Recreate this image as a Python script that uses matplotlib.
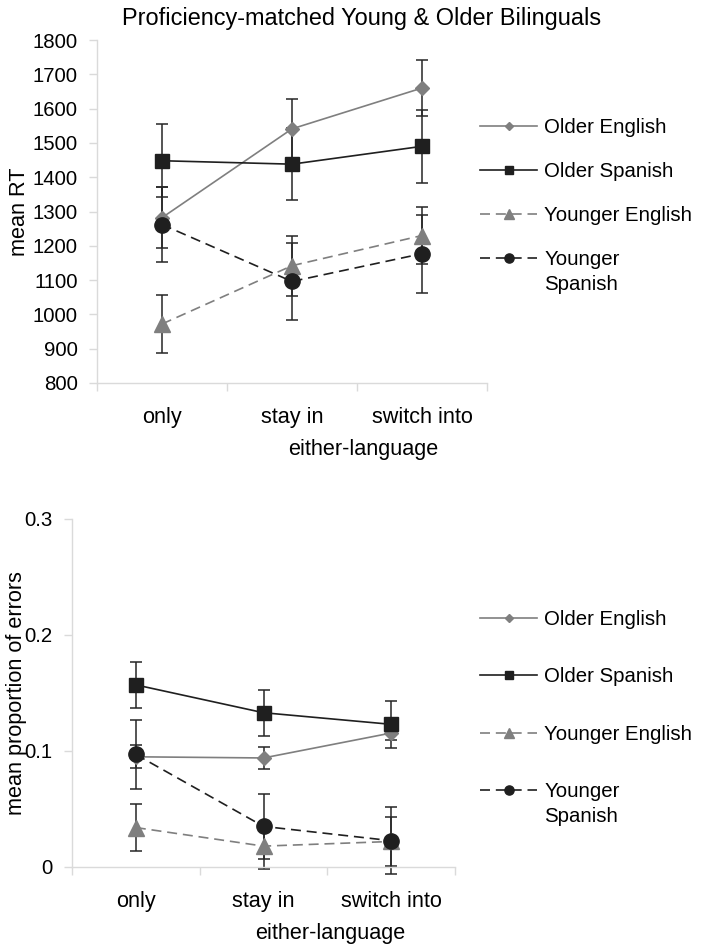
import numpy as np
import matplotlib
matplotlib.use("Agg")
import matplotlib.pyplot as plt
from matplotlib.ticker import FixedLocator, NullFormatter

plt.rcParams['font.family'] = ['Liberation Sans', 'DejaVu Sans']

conditions = ["only", "stay in", "switch into"]
groups = ["Older English", "Older Spanish", "Younger English", "Younger Spanish"]

# top panel: mean RT
rt_mean = {
    "Older English": [1282, 1541, 1660],
    "Older Spanish": [1448, 1438, 1490],
    "Younger English": [972, 1142, 1230],
    "Younger Spanish": [1262, 1096, 1177],
}
rt_err = {
    "Older English": [88, 88, 82],
    "Older Spanish": [107, 104, 107],
    "Younger English": [85, 88, 84],
    "Younger Spanish": [108, 112, 114],
}

# bottom panel: proportion of errors
err_mean = {
    "Older English": [0.095, 0.094, 0.1155],
    "Older Spanish": [0.157, 0.133, 0.123],
    "Younger English": [0.034, 0.018, 0.022],
    "Younger Spanish": [0.097, 0.035, 0.0227],
}
err_err = {
    "Older English": [0.010, 0.0095, 0.006],
    "Older Spanish": [0.020, 0.020, 0.020],
    "Younger English": [0.020, 0.020, 0.021],
    "Younger Spanish": [0.030, 0.028, 0.029],
}

gray = "#7f7f7f"
dark = "#1f1f1f"
styles = {
    "Older English": dict(color=gray, marker="D", ls="-", ms=7.5),
    "Older Spanish": dict(color=dark, marker="s", ls="-", ms=10.5),
    "Younger English": dict(color=gray, marker="^", ls=(0, (6, 3.5)), ms=11),
    "Younger Spanish": dict(color=dark, marker="o", ls=(0, (6, 3.5)), ms=11),
}

spine_col = "#dadada"
fs_tick = 14.7
fs_lab = 15.6
fs_leg = 14.7


def panel(ax, means, errs, ylim, yticks, ylabels, ylab, xlab_x, ylab_x):
    x = np.arange(len(conditions)) + 0.5
    for g in groups:
        ax.errorbar(x, means[g], yerr=errs[g], fmt="none", ecolor="#262626",
                    elinewidth=1.1, capsize=4.4, capthick=1.1, clip_on=False, zorder=2)
    for g in groups:
        st = styles[g]
        label = g.replace("Younger Spanish", "Younger")
        ax.plot(x, means[g], color=st["color"], marker=st["marker"], ls=st["ls"],
                ms=st["ms"], lw=1.2, mec=st["color"], label=label, clip_on=False, zorder=3)
    ax.set_xlim(0, 3)
    ax.set_ylim(*ylim)
    ax.set_yticks(yticks)
    ax.set_yticklabels(ylabels, fontsize=fs_tick)
    ax.xaxis.set_major_locator(FixedLocator([0, 1, 2, 3]))
    ax.xaxis.set_major_formatter(NullFormatter())
    ax.xaxis.set_minor_locator(FixedLocator(x))
    ax.set_xticklabels(conditions, minor=True, fontsize=fs_lab)
    ax.tick_params(axis="x", which="minor", length=0, pad=17)
    ax.tick_params(axis="x", which="major", length=5.5, color=spine_col, width=1)
    ax.tick_params(axis="y", length=5.5, color=spine_col, width=1, pad=8.5)
    for s in ["top", "right"]:
        ax.spines[s].set_visible(False)
    for s in ["left", "bottom"]:
        ax.spines[s].set_color(spine_col)
        ax.spines[s].set_linewidth(1)
    ax.set_ylabel(ylab, fontsize=fs_lab)
    ax.yaxis.set_label_coords(ylab_x, 0.5)
    ax.set_xlabel("either-language", fontsize=fs_lab, labelpad=8)
    ax.xaxis.label.set_x(xlab_x)


def add_legend(ax, top_px, spacing):
    leg = ax.legend(loc="upper left", bbox_to_anchor=(480 / 704, 1 - top_px / 950),
                    bbox_transform=fig.transFigure, frameon=False, fontsize=fs_leg,
                    handlelength=2.8, handletextpad=0.35, labelspacing=spacing,
                    markerscale=0.6, borderaxespad=0, borderpad=0)
    # second line of the last label, hung under the legend text
    ax.annotate("Spanish", xy=(0, 0), xycoords=leg.texts[-1], xytext=(0, -4.5),
                textcoords="offset points", va="top", ha="left", fontsize=fs_leg,
                zorder=10, annotation_clip=False)
    return leg


fig = plt.figure(figsize=(7.04, 9.5), dpi=100)

ax1 = fig.add_axes([97 / 704, 1 - 383 / 950, 390 / 704, 343 / 950])
panel(ax1, rt_mean, rt_err, (800, 1800), np.arange(800, 1801, 100),
      [str(v) for v in range(800, 1801, 100)], "mean RT", 0.682, -0.172)
ax1.set_title("Proficiency-matched Young & Older Bilinguals", fontsize=16.9, pad=11, x=0.678)
add_legend(ax1, 118, 1.22)

ax2 = fig.add_axes([72 / 704, 1 - 867 / 950, 383 / 704, 348 / 950])
panel(ax2, err_mean, err_err, (0, 0.3), [0, 0.1, 0.2, 0.3],
      ["0", "0.1", "0.2", "0.3"], "mean proportion of errors", 0.674, -0.117)
add_legend(ax2, 610, 1.88)

fig.savefig("out.png", dpi=100)
